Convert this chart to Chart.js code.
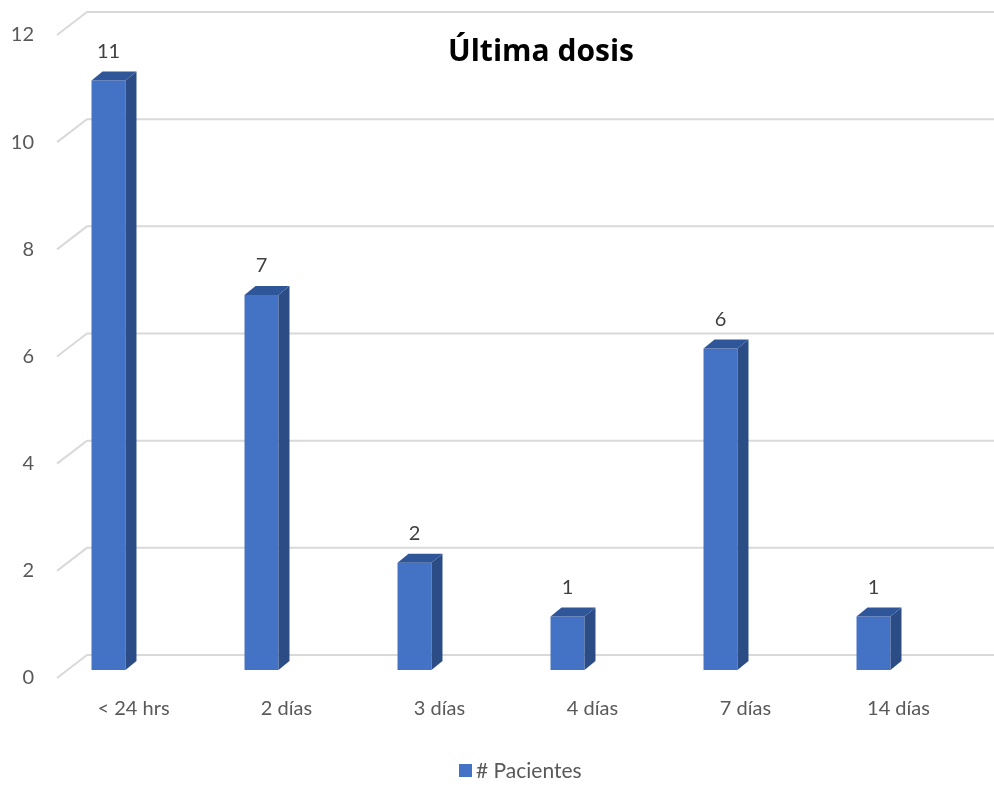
<!DOCTYPE html>
<html>
<head>
<meta charset="utf-8">
<script src="https://cdn.jsdelivr.net/npm/chart.js@4.4.1/dist/chart.umd.min.js"></script>
<style>
  html, body { margin: 0; padding: 0; background: #fff; }
  #wrap { width: 994px; height: 785px; position: relative; }
</style>
</head>
<body>
<div id="wrap"><canvas id="dosisChart"></canvas></div>
<script>
// Data
const categories = ['< 24 hrs', '2 días', '3 días', '4 días', '7 días', '14 días'];
const pacientes = [11, 7, 2, 1, 6, 1];
const yTicks = [0, 2, 4, 6, 8, 10, 12];
const seriesName = '# Pacientes';
const chartTitle = 'Última dosis';

const FONT = 'Lato, "Open Sans", sans-serif';
const SHIFT_X = -25, SHIFT_Y = -8;   // bars sit a bit back from the front plane
const DEPTH_X = 11, DEPTH_Y = 9;     // bar depth
const WALL_X = 30, WALL_Y = 23;      // back wall offset

// back wall gridlines + floor diagonals
const wallPlugin = {
    id: 'wall',
    beforeDatasetsDraw(chart) {
        const ctx = chart.ctx;
        const y = chart.scales.y;
        const left = chart.chartArea.left;
        ctx.save();
        ctx.strokeStyle = '#d9d9d9';
        ctx.lineWidth = 2;
        yTicks.forEach(v => {
            const py = y.getPixelForValue(v);
            ctx.beginPath();
            ctx.moveTo(left, py);
            ctx.lineTo(left + WALL_X, py - WALL_Y);
            ctx.lineTo(chart.width, py - WALL_Y);
            ctx.stroke();
        });
        ctx.restore();
        // move bars back
        ctx.save();
        ctx.translate(SHIFT_X, SHIFT_Y);
    },
    afterDatasetsDraw(chart) {
        const ctx = chart.ctx;
        const meta = chart.getDatasetMeta(0);
        meta.data.forEach((bar, i) => {
            const l = bar.x - bar.width / 2, r = bar.x + bar.width / 2;
            const t = bar.y, b = bar.base;
            // side face
            ctx.fillStyle = '#2c4c86';
            ctx.beginPath();
            ctx.moveTo(r, t);
            ctx.lineTo(r + DEPTH_X, t - DEPTH_Y);
            ctx.lineTo(r + DEPTH_X, b - DEPTH_Y);
            ctx.lineTo(r, b);
            ctx.closePath();
            ctx.fill();
            // top face
            ctx.fillStyle = '#30569a';
            ctx.beginPath();
            ctx.moveTo(l, t);
            ctx.lineTo(l + DEPTH_X, t - DEPTH_Y);
            ctx.lineTo(r + DEPTH_X, t - DEPTH_Y);
            ctx.lineTo(r, t);
            ctx.closePath();
            ctx.fill();
            // value label
            ctx.fillStyle = '#404040';
            ctx.font = '20px ' + FONT;
            ctx.textAlign = 'center';
            ctx.textBaseline = 'middle';
            ctx.fillText(String(pacientes[i]), bar.x, t - 29);
        });
        ctx.restore();
    },
    afterDraw(chart) {
        const ctx = chart.ctx;
        ctx.save();
        // title
        ctx.fillStyle = '#000';
        ctx.font = 'bold 30px "Open Sans", sans-serif';
        ctx.textAlign = 'center';
        ctx.textBaseline = 'middle';
        ctx.fillText(chartTitle, 541, 52);
        // legend
        ctx.fillStyle = '#4472c4';
        ctx.fillRect(459, 764, 13, 13);
        ctx.fillStyle = '#595959';
        ctx.font = '21px ' + FONT;
        ctx.textAlign = 'left';
        ctx.fillText(seriesName, 476, 771);
        ctx.restore();
    }
};

const ctx = document.getElementById('dosisChart').getContext('2d');
window.myChart = new Chart(ctx, {
    type: 'bar',
    data: {
        labels: categories,
        datasets: [{
            label: seriesName,
            data: pacientes,
            backgroundColor: '#4472c4',
            borderWidth: 0,
            barPercentage: 0.222,
            categoryPercentage: 1
        }]
    },
    options: {
        responsive: true,
        maintainAspectRatio: false,
        animation: false,
        layout: { padding: { top: 32, right: 19, bottom: 0, left: 0 } },
        plugins: {
            legend: { display: false },
            title: { display: false },
            tooltip: { enabled: false }
        },
        scales: {
            x: {
                grid: { display: false, drawTicks: false },
                border: { display: false },
                ticks: { color: '#595959', font: { family: FONT, size: 20 }, padding: 19, maxRotation: 0 },
                afterFit: s => { s.height = 107; }
            },
            y: {
                min: 0, max: 12,
                grid: { display: false, drawTicks: false },
                border: { display: false },
                ticks: { stepSize: 2, color: '#595959', font: { family: FONT, size: 20 }, padding: 23 },
                afterFit: s => { s.width = 57; }
            }
        }
    },
    plugins: [wallPlugin]
});
</script>
</body>
</html>
